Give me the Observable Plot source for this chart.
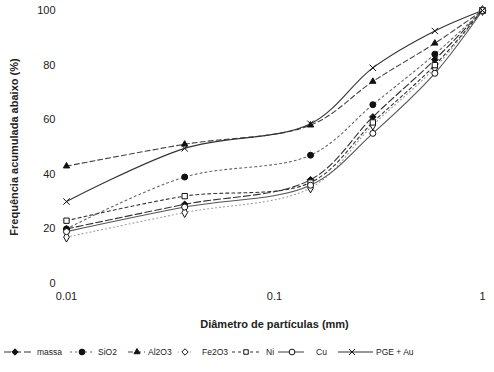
<!DOCTYPE html>
<html>
<head>
<meta charset="utf-8">
<script src="https://cdn.jsdelivr.net/npm/d3@7"></script>
<script src="https://cdn.jsdelivr.net/npm/@observablehq/plot@0.6"></script>
<style>
  html, body { margin: 0; padding: 0; background: #fff; }
  #chart { width: 494px; height: 372px; overflow: hidden; font-family: "Liberation Sans", Arial, sans-serif; }
  #chart svg [aria-label$="axis label"] text { font-weight: bold; }
</style>
</head>
<body>
<div id="chart"></div>
<script>
// Particle diameters (mm)
const diametro = [0.01, 0.037, 0.149, 0.297, 0.59, 1];
// Cumulative frequency below (%)
const massa = [20, 29, 38, 61, 82, 100];
const SiO2  = [20, 39, 47, 65.5, 84, 100];
const Al2O3 = [43, 51, 58, 74, 88, 100];
const Fe2O3 = [17, 26, 35, 58, 79, 100];
const Ni    = [23, 32, 37, 59, 80, 100];
const Cu    = [19, 28, 36, 55, 77, 100];
const PGE   = [30, 49.5, 58.5, 79, 92.5, 100];

const xTicks = [0.01, 0.1, 1];
const yTicks = [0, 20, 40, 60, 80, 100];

const series = [
  {name: "massa",    values: massa, dash: "7,3",  stroke: "#333", symbol: "diamond2", fill: "#111", legendX: [4, 32, 15, 37]},
  {name: "SiO2",     values: SiO2,  dash: "2,3",  stroke: "#666", symbol: "circle",   fill: "#111", legendX: [70, 94, 82, 98]},
  {name: "Al2O3",    values: Al2O3, dash: "5,3",  stroke: "#444", symbol: "triangle2",fill: "#111", legendX: [128, 145, 137, 148]},
  {name: "Fe2O3",    values: Fe2O3, dash: "1,3",  stroke: "#999", symbol: "diamond",  fill: "none", legendX: [178, 192, 185, 202]},
  {name: "Ni",       values: Ni,    dash: "3,3",  stroke: "#333", symbol: "square",   fill: "none", legendX: [232, 262, 246, 266]},
  {name: "Cu",       values: Cu,    dash: null,   stroke: "#555", symbol: "circle",   fill: "none", legendX: [278, 304, 292, 316]},
  {name: "PGE + Au", values: PGE,   dash: null,   stroke: "#333", symbol: "times",    fill: "none", legendX: [338, 373, 352, 376]}
];

const rows = series.flatMap(s => diametro.map((d, i) => ({serie: s.name, d, v: s.values[i]})));

const marks = [];
for (const s of series) {
  const data = rows.filter(r => r.serie === s.name);
  marks.push(Plot.line(data, {x: "d", y: "v", stroke: s.stroke, strokeWidth: 1.1, strokeDasharray: s.dash || undefined, curve: "catmull-rom"}));
  marks.push(Plot.dot(data, {x: "d", y: "v", symbol: () => s.symbol, r: 3,
    fill: s.fill === "none" ? "white" : s.fill, stroke: "#111", strokeWidth: 1}));
}

const plot = Plot.plot({
  width: 494,
  height: 340,
  marginLeft: 66,
  marginRight: 12,
  marginTop: 10,
  marginBottom: 57,
  style: {fontFamily: "Liberation Sans, Arial, sans-serif", fontSize: "11px", background: "white", color: "#222"},
  symbol: {type: "identity"},
  x: {type: "log", domain: [0.01, 1], ticks: xTicks, tickFormat: d => String(d), tickSize: 0, tickPadding: 9,
      label: "Diâmetro de partículas (mm)", labelAnchor: "center", labelOffset: 44, labelArrow: "none"},
  y: {domain: [0, 100], ticks: yTicks, tickSize: 0, tickPadding: 11,
      label: "Frequência acumulada abaixo (%)", labelAnchor: "center", labelOffset: 56, labelArrow: "none"},
  marks
});

const chart = document.getElementById("chart");
chart.appendChild(plot);

// Legend below the plot
const leg = d3.create("svg").attr("width", 494).attr("height", 32)
  .style("display", "block").style("font-family", "Liberation Sans, Arial, sans-serif");
const cy = 12;
const sym = {
  diamond2: d3.symbolDiamond2, circle: d3.symbolCircle, triangle2: d3.symbolTriangle2,
  diamond: d3.symbolDiamond2, square: d3.symbolSquare2, times: d3.symbolTimes
};
for (const s of series) {
  const [x1, x2, mx, tx] = s.legendX;
  leg.append("line").attr("x1", x1).attr("x2", x2).attr("y1", cy).attr("y2", cy)
    .attr("stroke", s.stroke).attr("stroke-width", 1.1)
    .attr("stroke-dasharray", s.dash || null);
  leg.append("path").attr("transform", `translate(${mx},${cy})`)
    .attr("d", d3.symbol(sym[s.symbol], 26)())
    .attr("fill", s.fill === "none" ? "white" : s.fill).attr("stroke", "#111").attr("stroke-width", 1);
  leg.append("text").attr("x", tx).attr("y", cy).attr("dy", "0.35em")
    .attr("font-size", 8.5).attr("fill", "#222").text(s.name);
}
chart.appendChild(leg.node());
</script>
</body>
</html>
